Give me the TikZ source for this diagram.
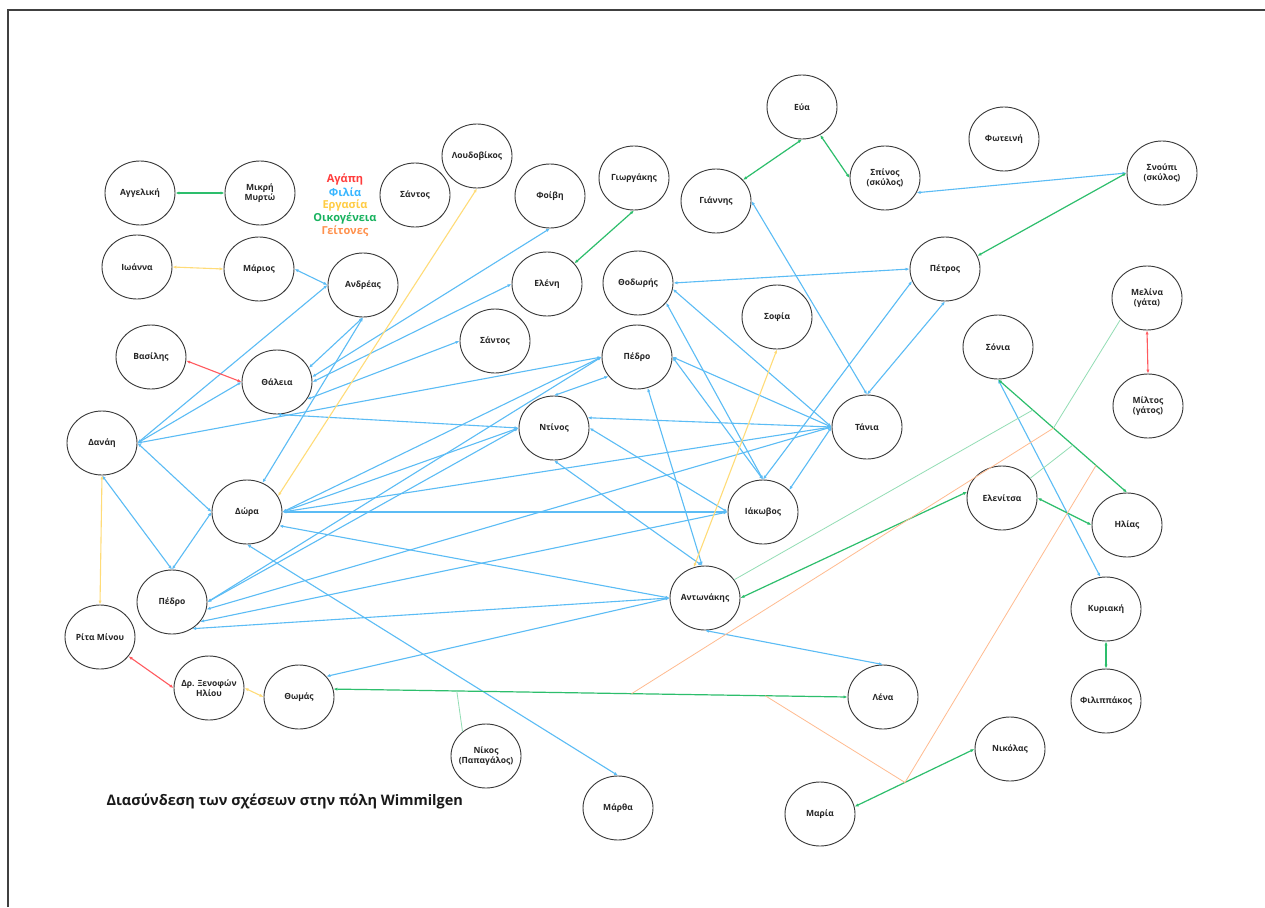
\documentclass[tikz,border=0pt]{standalone}
\usepackage{fontspec}
\setmainfont{Open Sans}
\usetikzlibrary{shapes.geometric,arrows.meta,calc}
\definecolor{cblue}{HTML}{5BBCF5}
\definecolor{cgreen}{HTML}{2DBE6C}
\definecolor{clgreen}{HTML}{93DDB5}
\definecolor{corange}{HTML}{FFBB90}
\definecolor{cred}{HTML}{FF5A5F}
\definecolor{cyellow}{HTML}{FFDC78}
\definecolor{lred}{HTML}{FF3D3D}
\definecolor{lblue}{HTML}{38B6FF}
\definecolor{lyellow}{HTML}{FFCC44}
\definecolor{lgreen}{HTML}{17B25E}
\definecolor{lorange}{HTML}{FF914D}
\tikzset{
  >={Latex[length=4pt,width=3.2pt]},
  person/.style={ellipse, draw=black!78, line width=0.9pt, minimum width=70pt, minimum height=64pt,
    inner sep=0pt, align=center, text=black!85, font=\bfseries\fontsize{8.5}{10.5}\selectfont},
  tight/.style={inner xsep=-9pt, inner ysep=-4pt},
  fil/.style={cblue, line width=1.1pt, <->},
  fam/.style={cgreen, line width=1.2pt, <->},
  famthin/.style={clgreen, line width=0.8pt},
  love/.style={cred, line width=1.1pt, <->},
  work/.style={cyellow, line width=1.1pt, <->},
  neigh/.style={corange, line width=0.8pt},
  legend/.style={font=\bfseries\fontsize{11}{13}\selectfont, anchor=center},
}
\begin{document}
\begin{tikzpicture}[x=1pt,y=-1pt]
\useasboundingbox (0,0) rectangle (1265,907);
\fill[white] (0,0) rectangle (1265,907);
\draw[black!75, line width=1.3pt] (8,907) -- (8,10) -- (1265,10);

% nodes
\node[person] (angeliki) at (140,193) {Αγγελική};
\node[person] (myrto) at (260,193) {Μικρή\\Μυρτώ};
\node[person] (ioanna) at (137,267) {Ιωάννα};
\node[person] (marios) at (259,269) {Μάριος};
\node[person] (andreas) at (363,285) {Ανδρέας};
\node[person] (vasilis) at (151,357) {Βασίλης};
\node[person] (thaleia) at (277,382) {Θάλεια};
\node[person] (danai) at (102,443) {Δανάη};
\node[person] (dora) at (247,512) {Δώρα};
\node[person] (pedroL) at (172,602) {Πέδρο};
\node[person, tight] (rita) at (100,637) {Ρίτα Μίνου};
\node[person, tight] (xenofon) at (209,688) {Δρ. Ξενοφών\\Ηλίου};
\node[person] (thomas) at (299,697) {Θωμάς};
\node[person, tight] (nikos) at (486,756) {Νίκος\\(Παπαγάλος)};
\node[person] (martha) at (618,808) {Μάρθα};
\node[person, tight] (antonakis) at (705,598) {Αντωνάκης};
\node[person] (lena) at (883,697) {Λένα};
\node[person] (maria) at (820,814) {Μαρία};
\node[person] (nikolas) at (1010,749) {Νικόλας};
\node[person] (kyriaki) at (1106,609) {Κυριακή};
\node[person, tight] (filippakos) at (1106,701) {Φιλιππάκος};
\node[person, tight] (loudovikos) at (477,156) {Λουδοβίκος};
\node[person] (santos1) at (415,195) {Σάντος};
\node[person] (foivi) at (550,196) {Φοίβη};
\node[person, tight] (giorgakis) at (634,178) {Γιωργάκης};
\node[person] (eleni) at (547,284) {Ελένη};
\node[person] (thodoris) at (638,283) {Θοδωρής};
\node[person] (santos2) at (495,341) {Σάντος};
\node[person] (pedroM) at (637,357) {Πέδρο};
\node[person] (ntinos) at (554,428) {Ντίνος};
\node[person] (eva) at (802,107) {Εύα};
\node[person] (giannis) at (716,201) {Γιάννης};
\node[person] (spinos) at (885,178) {Σπίνος\\(σκύλος)};
\node[person] (foteini) at (1004,139) {Φωτεινή};
\node[person] (snoupi) at (1162,173) {Σνούπι\\(σκύλος)};
\node[person] (petros) at (945,269) {Πέτρος};
\node[person] (sofia) at (777,317) {Σοφία};
\node[person] (tania) at (867,427) {Τάνια};
\node[person] (iakovos) at (763,512) {Ιάκωβος};
\node[person] (sonia) at (998,347) {Σόνια};
\node[person] (melina) at (1147,298) {Μελίνα\\(γάτα)};
\node[person] (miltos) at (1148,406) {Μίλτος\\(γάτος)};
\node[person] (elenitsa) at (1002,498) {Ελενίτσα};
\node[person] (ilias) at (1127,525) {Ηλίας};

% legend
\node[legend, text=lred] (lg1) at (345,179) {Αγάπη};
\node[legend, text=lblue] (lg2) at (345,192) {Φιλία};
\node[legend, text=lyellow] (lg3) at (345,205) {Εργασία};
\node[legend, text=lgreen] (lg4) at (345,218) {Οικογένεια};
\node[legend, text=lorange] (lg5) at (345,231) {Γείτονες};

% title
\node[anchor=west, font=\bfseries\fontsize{14.5}{17}\selectfont, text=black!90] (title) at (103,801) {Διασύνδεση των σχέσεων στην πόλη Wimmilgen};

% friendship (blue)
\draw[fil] (andreas.180) -- (marios.0);
\draw[fil] (andreas.180) -- (danai.0);
\draw[fil] (andreas.270) -- (thaleia.24);
\draw[fil] (andreas.270) -- (dora.62);
\draw[fil] (foivi.270) -- (thaleia.8);
\draw[fil] (eleni.180) -- (thaleia.0);
\draw[fil] (santos2.180) -- (thaleia.-30);
\draw[fil] (danai.0) -- (thaleia.180);
\draw[fil] (danai.0) -- (pedroM.180);
\draw[fil] (danai.0) -- (dora.180);
\draw[fil] (danai.270) -- (pedroL.90);
\draw[fil] (dora.180) -- (pedroL.90);
\draw[fil] (thaleia.270) -- (ntinos.180);
\draw[fil] (dora.0) -- (iakovos.180);
\draw[fil] (dora.0) -- (tania.180);
\draw[fil] (dora.0) -- (ntinos.180);
\draw[fil] (dora.0) -- (pedroM.180);
\draw[fil] (dora.-23) -- (antonakis.180);
\draw[fil] (dora.270) -- (martha.90);
\draw[fil] (pedroL.0) -- (pedroM.180);
\draw[fil] (pedroL.0) -- (ntinos.180);
\draw[fil] (pedroL.-12) -- (tania.180);
\draw[fil] (pedroL.-35) -- (iakovos.180);
\draw[fil] (pedroL.-53) -- (antonakis.180);
\draw[fil] (thomas.37) -- (antonakis.180);
\draw[fil] (antonakis.270) -- (lena.90);
\draw[fil] (pedroM.214) -- (ntinos.90);
\draw[fil] (pedroM.0) -- (tania.180);
\draw[fil] (pedroM.0) -- (iakovos.90);
\draw[fil] (pedroM.289) -- (antonakis.95);
\draw[fil] (ntinos.270) -- (antonakis.95);
\draw[fil] (ntinos.17) -- (tania.180);
\draw[fil] (ntinos.0) -- (iakovos.180);
\draw[fil] (thodoris.0) -- (petros.180);
\draw[fil] (thodoris.-10) -- (tania.180);
\draw[fil] (thodoris.-35) -- (iakovos.90);
\draw[fil] (iakovos.90) -- (petros.200);
\draw[fil] (tania.180) -- (iakovos.40);
\draw[fil] (giannis.0) -- (tania.90);
\draw[fil] (petros.270) -- (tania.90);
\draw[fil] (spinos.-25) -- (snoupi.180);
\draw[fil] (sonia.270) -- (kyriaki.100);

% family (green)
\draw[fam] (angeliki.0) -- (myrto.180);
\draw[fam] (eleni.37) -- (giorgakis.270);
\draw[fam] (giannis.38) -- (eva.270);
\draw[fam] (eva.-57) -- (spinos.180);
\draw[fam] (petros.22) -- (snoupi.180);
\draw[fam] (sonia.270) -- (ilias.90);
\draw[fam] (elenitsa.0) -- (ilias.180);
\draw[fam] (antonakis.0) -- (elenitsa.170);
\draw[fam] (kyriaki.270) -- (filippakos.90);
\draw[fam] (maria.12) -- (nikolas.180);
\draw[fam] (thomas.13) -- (lena.180);

% junctions on relation lines
\coordinate (jSI1) at ($(sonia.270)!0.27!(ilias.90)$);
\coordinate (jSI2) at ($(sonia.270)!0.43!(ilias.90)$);
\coordinate (jSI3) at ($(sonia.270)!0.58!(ilias.90)$);
\coordinate (jSI4) at ($(sonia.270)!0.76!(ilias.90)$);
\coordinate (jTL1) at ($(thomas.13)!0.24!(lena.180)$);
\coordinate (jTL2) at ($(thomas.13)!0.58!(lena.180)$);
\coordinate (jTL3) at ($(thomas.13)!0.84!(lena.180)$);
\coordinate (jMN) at ($(maria.12)!0.42!(nikolas.180)$);

\draw[famthin] (nikos.134) -- (jTL1);
\draw[famthin] (antonakis.32) -- (jSI1);
\draw[famthin] (melina.219) -- (jSI2);
\draw[famthin] (elenitsa.35) -- (jSI3);

% neighbours (orange)
\draw[neigh] (jSI2) -- (jTL2);
\draw[neigh] (jSI4) -- (jMN);
\draw[neigh] (jMN) -- (jTL3);

% love (red)
\draw[love] (vasilis.-6) -- (thaleia.180);
\draw[love] (rita.-34) -- (xenofon.180);
\draw[love] (melina.270) -- (miltos.90);

% work (yellow)
\draw[work] (ioanna.0) -- (marios.180);
\draw[work] (loudovikos.270) -- (dora.27);
\draw[work] (danai.270) -- (rita.90);
\draw[work] (xenofon.0) -- (thomas.180);
\draw[work] (sofia.270) -- (antonakis.110);
\end{tikzpicture}
\end{document}
